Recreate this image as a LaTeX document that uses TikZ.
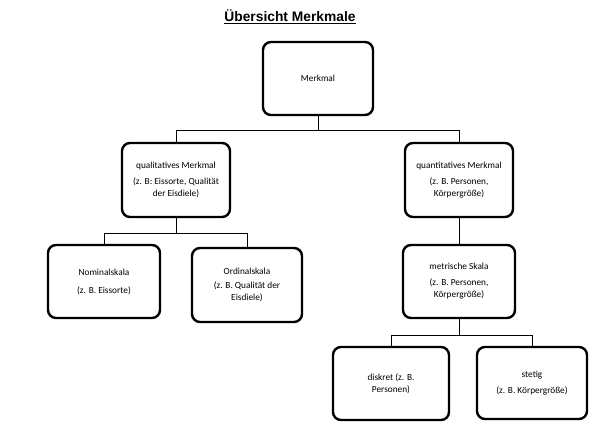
\documentclass[tikz,border=0pt]{standalone}
\usepackage{fontspec}
\setmainfont{Carlito}
\newfontfamily\titlefont{Liberation Sans}
\usepackage{tikz}

\tikzset{
	kasten/.style={draw, line width=2.4pt, rounded corners=8pt, align=center, inner sep=0pt, font=\fontsize{9.3}{12}\selectfont},
	linie/.style={line width=0.8pt}
}

\begin{document}
\begin{tikzpicture}[x=1pt, y=-1pt]
		\useasboundingbox (0,0) rectangle (599,436);
		% Titel
		\node (titel) at (290,17) {\titlefont\fontsize{13.8}{16}\selectfont\bfseries\underline{Übersicht Merkmale}};
		% Kaesten
		\node [kasten, minimum width=110pt, minimum height=73pt] (merkmal) at (318,78.5) {Merkmal};
		\node [kasten, minimum width=108pt, minimum height=74pt] (qual) at (176,180) {qualitatives Merkmal\\[4pt](z. B: Eissorte, Qualität\\der Eisdiele)};
		\node [kasten, minimum width=108pt, minimum height=74pt] (quant) at (459,180) {quantitatives Merkmal\\[4pt](z. B. Personen,\\Körpergröße)};
		\node [kasten, minimum width=112pt, minimum height=73pt] (nominal) at (104,281.5) {Nominalskala\\[6pt](z. B. Eissorte)};
		\node [kasten, minimum width=110pt, minimum height=74pt] (ordinal) at (247,285) {Ordinalskala\\[2pt](z. B. Qualität der\\Eisdiele)};
		\node [kasten, minimum width=112pt, minimum height=73pt] (metrisch) at (459,281.5) {metrische Skala\\[4pt](z. B. Personen,\\Körpergröße)};
		\node [kasten, minimum width=116pt, minimum height=73pt] (diskret) at (391,383.5) {diskret (z. B.\\Personen)};
		\node [kasten, minimum width=110pt, minimum height=72pt] (stetig) at (532,383) {stetig\\[4pt](z. B. Körpergröße)};
		% Verbindungen
		\draw [linie] (merkmal.south) -- ++(0,14) -| (qual.north);
		\draw [linie] (merkmal.south) -- ++(0,14) -| (quant.north);
		\draw [linie] (qual.south) -- ++(0,15) -| (nominal.north);
		\draw [linie] (qual.south) -- ++(0,15) -| (ordinal.north);
		\draw [linie] (quant.south) -- (metrisch.north);
		\draw [linie] (metrisch.south) -- ++(0,16) -| (diskret.north);
		\draw [linie] (metrisch.south) -- ++(0,16) -| (stetig.north);
	\end{tikzpicture}
\end{document}
